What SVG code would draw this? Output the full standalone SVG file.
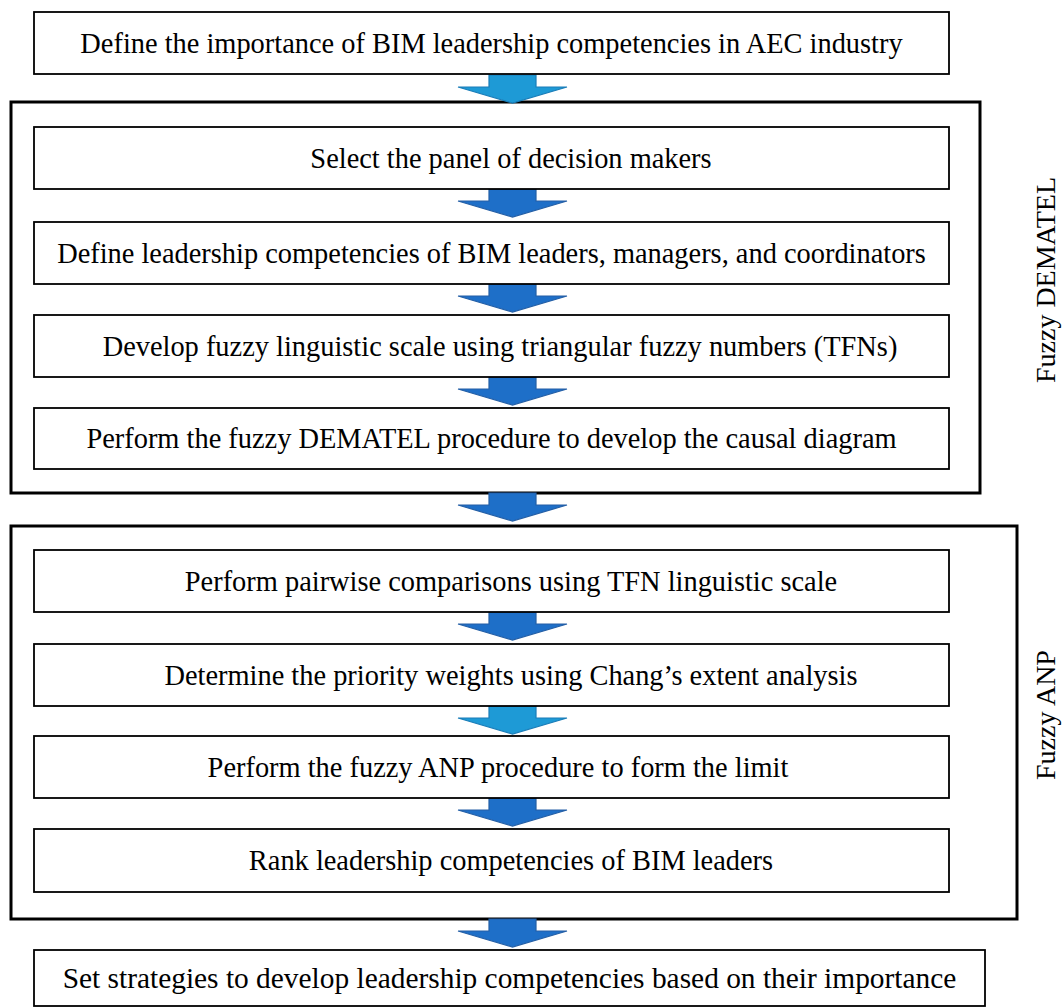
<svg xmlns="http://www.w3.org/2000/svg" width="1064" height="1008" viewBox="0 0 1064 1008">
<style>
.box{fill:#fff;stroke:#000;stroke-width:1.8}
.outer{fill:none;stroke:#000;stroke-width:3}
.t{font-family:"Liberation Serif","Times New Roman",serif;font-size:28.4px;fill:#000;text-anchor:middle}
.side{font-family:"Liberation Serif","Times New Roman",serif;font-size:28px;fill:#000;text-anchor:middle}
.light{fill:#1E9AD6;stroke:#1A7DB8;stroke-width:1.2}
.dark{fill:#1E6FC8;stroke:#245FA6;stroke-width:1.2}
</style>
<defs>
<path id="arr" d="M-23.5,0 H23.5 V12 H54.5 L0,28 L-54.5,12 H-23.5 Z"/>
</defs>
<g id="groups">
<rect id="dematel-group" class="outer" x="11" y="102" width="969" height="391"/>
<rect id="anp-group" class="outer" x="11" y="526" width="1006" height="393"/>
<text class="side" transform="translate(1055,280) rotate(-90)">Fuzzy DEMATEL</text>
<text class="side" transform="translate(1055,715) rotate(-90)">Fuzzy ANP</text>
</g>
<g id="connectors">
<use href="#arr" class="light" x="512.5" y="75"/>
<use href="#arr" class="dark" x="512.5" y="189"/>
<use href="#arr" class="dark" x="512.5" y="284"/>
<use href="#arr" class="dark" x="512.5" y="377"/>
<use href="#arr" class="dark" x="512.5" y="493"/>
<use href="#arr" class="dark" x="512.5" y="612"/>
<use href="#arr" class="light" x="512.5" y="706"/>
<use href="#arr" class="dark" x="512.5" y="798"/>
<use href="#arr" class="dark" x="512.5" y="919"/>
</g>
<g id="n1"><rect class="box" x="34" y="12" width="915" height="62"/><text class="t" x="491.5" y="53">Define the importance of BIM leadership competencies in AEC industry</text></g>
<g id="n2"><rect class="box" x="34" y="127" width="915" height="62"/><text class="t" x="511" y="168">Select the panel of decision makers</text></g>
<g id="n3"><rect class="box" x="34" y="222" width="915" height="62"/><text class="t" x="491.5" y="263">Define leadership competencies of BIM leaders, managers, and coordinators</text></g>
<g id="n4"><rect class="box" x="34" y="315" width="915" height="62"/><text class="t" x="500" y="356">Develop fuzzy linguistic scale using triangular fuzzy numbers (TFNs)</text></g>
<g id="n5"><rect class="box" x="34" y="408" width="915" height="61"/><text class="t" x="491.5" y="448">Perform the fuzzy DEMATEL procedure to develop the causal diagram</text></g>
<g id="n6"><rect class="box" x="34" y="550" width="915" height="62"/><text class="t" x="511" y="591">Perform pairwise comparisons using TFN linguistic scale</text></g>
<g id="n7"><rect class="box" x="34" y="644" width="915" height="62"/><text class="t" x="511" y="685">Determine the priority weights using Chang’s extent analysis</text></g>
<g id="n8"><rect class="box" x="34" y="736" width="915" height="62"/><text class="t" x="498" y="777">Perform the fuzzy ANP procedure to form the limit</text></g>
<g id="n9"><rect class="box" x="34" y="829" width="915" height="63"/><text class="t" x="511" y="870">Rank leadership competencies of BIM leaders</text></g>
<g id="n10"><rect class="box" x="34" y="950" width="951" height="56"/><text class="t" x="509.5" y="988" style="font-size:29.4px">Set strategies to develop leadership competencies based on their importance</text></g>
</svg>
